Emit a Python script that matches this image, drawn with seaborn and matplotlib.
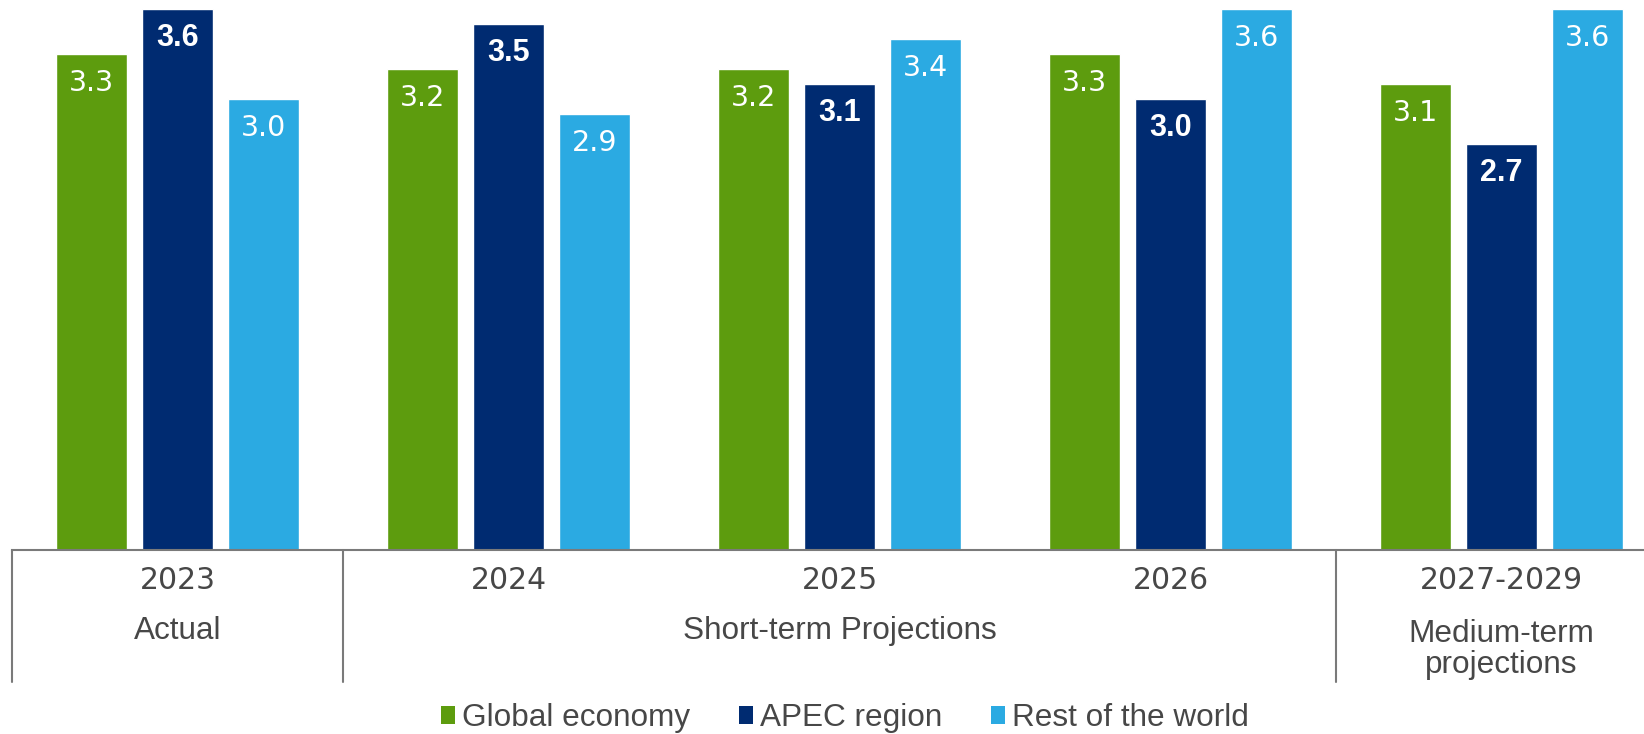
import matplotlib
matplotlib.use("Agg")
import matplotlib.pyplot as plt
import matplotlib.transforms as mtransforms
from matplotlib.patches import Patch
import seaborn as sns
import pandas as pd

# Growth rates (%) by period
periods = ["2023", "2024", "2025", "2026", "2027-2029"]
global_economy = [3.3, 3.2, 3.2, 3.3, 3.1]
apec_region = [3.6, 3.5, 3.1, 3.0, 2.7]
rest_of_world = [3.0, 2.9, 3.4, 3.6, 3.6]
series_names = ["Global economy", "APEC region", "Rest of the world"]
series_colors = ["#5D9C0E", "#002B71", "#2BAAE2"]
phase_labels = ["Actual", "Short-term Projections", "Medium-term\nprojections"]
phase_centers = [0, 2, 4]
phase_edges = [-0.5, 0.5, 3.5]

df = pd.DataFrame({
    "period": periods * 3,
    "series": [s for s in series_names for _ in periods],
    "value": global_economy + apec_region + rest_of_world,
})

sns.set_theme(style="white")
plt.rcParams["font.family"] = ["Liberation Sans", "DejaVu Sans"]
text_color = "#474747"
line_color = "#7A7A7A"
word_fs = 22.7
num_font = "DejaVu Sans"

fig = plt.figure(figsize=(16.44, 7.34), dpi=100)
ax = fig.add_axes([12 / 1644, 1 - 549.5 / 734, 1655 / 1644, 549.5 / 734])

sns.barplot(data=df, x="period", y="value", hue="series", order=periods,
            hue_order=series_names, palette=series_colors, width=0.78,
            gap=0.165, saturation=1, legend=False, ax=ax)

ax.set_xlim(-0.5, 4.5)
ax.set_ylim(0, 3.663)
ax.set_yticks([])
ax.set_ylabel("")
ax.set_xlabel("")
for side in ["top", "right", "left"]:
    ax.spines[side].set_visible(False)
ax.spines["bottom"].set_color(line_color)
ax.spines["bottom"].set_linewidth(1.5)

ax.set_xticks(range(len(periods)))
ax.set_xticklabels(periods, fontsize=21.5, color=text_color, family=num_font)
ax.tick_params(axis="x", length=0, pad=12)

# Value labels inside the top of each bar
for ci, container in enumerate(ax.containers):
    bold = series_names[ci] == "APEC region"
    for bar in container:
        h = bar.get_height()
        style = ({"fontweight": "bold", "fontsize": 22, "family": "Liberation Sans"}
                 if bold else {"fontsize": 20.5, "family": num_font})
        ax.text(bar.get_x() + bar.get_width() / 2, h - 0.19, f"{h:.1f}",
                ha="center", va="center", color="white", **style)

# Phase labels and separators below the axis
trans = mtransforms.blended_transform_factory(ax.transData, ax.transAxes)
for xc, lab in zip(phase_centers, phase_labels):
    multi = "\n" in lab
    ypix = 619 if multi else 631
    ax.text(xc, -(ypix - 549.5) / 549.5, lab, transform=trans, ha="center",
            va="top" if multi else "center", fontsize=word_fs,
            color=text_color, linespacing=1.04)
for xe in phase_edges:
    ax.plot([xe, xe], [0, -(682 - 549.5) / 549.5], transform=trans,
            color=line_color, lw=1.5, clip_on=False)

handles = [Patch(facecolor=c, edgecolor="none") for c in series_colors]
fig.legend(handles, series_names, loc="center", ncol=3,
           bbox_to_anchor=(845 / 1644, 1 - 718 / 734), frameon=False,
           prop={"size": word_fs}, labelcolor=text_color,
           handlelength=0.45, handleheight=0.5, handletextpad=0.22,
           columnspacing=1.55, borderpad=0, borderaxespad=0)

fig.savefig("out.png", dpi=100)
